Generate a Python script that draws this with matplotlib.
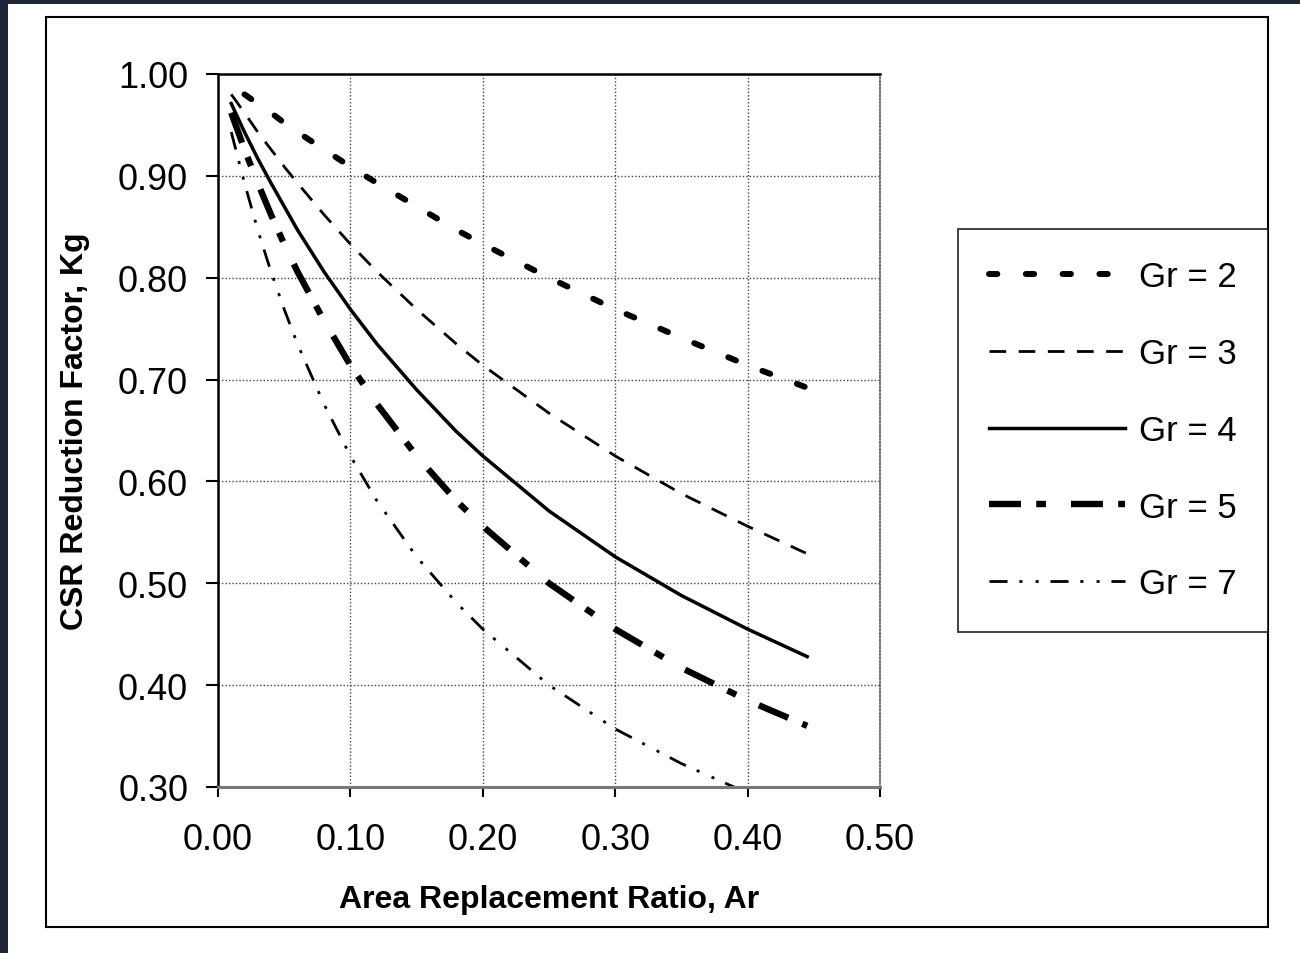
import numpy as np
import matplotlib
matplotlib.use('Agg')
import matplotlib.pyplot as plt
from matplotlib.patches import Rectangle

plt.rcParams['font.family'] = ['Liberation Sans', 'DejaVu Sans']
plt.rcParams['lines.scale_dashes'] = False

# area replacement ratio
ar = [0.01, 0.02, 0.03, 0.04, 0.05, 0.06, 0.08, 0.10, 0.12, 0.15,
      0.18, 0.20, 0.25, 0.30, 0.35, 0.40, 0.445]

kg_gr2 = [0.990, 0.980, 0.971, 0.962, 0.952, 0.943, 0.926, 0.909, 0.893, 0.870,
          0.847, 0.833, 0.800, 0.769, 0.741, 0.714, 0.692]
kg_gr3 = [0.980, 0.962, 0.943, 0.926, 0.909, 0.893, 0.862, 0.833, 0.806, 0.769,
          0.735, 0.714, 0.667, 0.625, 0.588, 0.556, 0.529]
kg_gr4 = [0.971, 0.943, 0.917, 0.893, 0.870, 0.847, 0.806, 0.769, 0.735, 0.690,
          0.649, 0.625, 0.571, 0.526, 0.488, 0.455, 0.428]
kg_gr5 = [0.962, 0.926, 0.893, 0.862, 0.833, 0.806, 0.758, 0.714, 0.676, 0.625,
          0.581, 0.556, 0.500, 0.455, 0.417, 0.385, 0.360]
kg_gr7 = [0.943, 0.893, 0.847, 0.806, 0.769, 0.735, 0.676, 0.625, 0.581, 0.526,
          0.481, 0.455, 0.400, 0.357, 0.323, 0.294]

labels = ['Gr = 2', 'Gr = 3', 'Gr = 4', 'Gr = 5', 'Gr = 7']

xticks = [0.0, 0.1, 0.2, 0.3, 0.4, 0.5]
yticks = [0.3, 0.4, 0.5, 0.6, 0.7, 0.8, 0.9, 1.0]

fig = plt.figure(figsize=(13, 9.54), dpi=100)
fig.patch.set_facecolor('white')

# dark strip on top/left edge of the screenshot
navy = '#1f2436'
fig.patches.append(Rectangle((0, 1 - 5/954.), 1, 5/954., transform=fig.transFigure,
                             facecolor=navy, edgecolor='none', zorder=0))
fig.patches.append(Rectangle((0, 0), 8/1300., 1, transform=fig.transFigure,
                             facecolor=navy, edgecolor='none', zorder=0))
# outer frame of the chart
fig.patches.append(Rectangle((46/1300., 1 - 928/954.), (1268 - 46)/1300., (928 - 18)/954.,
                             transform=fig.transFigure, fill=False,
                             edgecolor='black', linewidth=1.5, zorder=1))

ax = fig.add_axes([218/1300., 1 - 788/954., (880 - 218)/1300., (788 - 75)/954.])

ax.plot(ar[1:], kg_gr2[1:], color='black', lw=4.3, dashes=(6, 20.5), dash_capstyle='round',
        label=labels[0])
ax.plot(ar, kg_gr3, color='black', lw=2.0, dashes=(12, 9), label=labels[1])
ax.plot(ar, kg_gr4, color='black', lw=2.5, label=labels[2])
ax.plot(ar, kg_gr5, color='black', lw=4.6, dashes=(23, 11, 7, 18), label=labels[3])
ax.plot(ar[:len(kg_gr7)], kg_gr7, color='black', lw=2.0,
        dashes=(13, 8.5, 2.2, 9.5, 2.2, 8.5), label=labels[4])

ax.set_xlim(0, 0.5)
ax.set_ylim(0.3, 1.0)
ax.set_xticks(xticks)
ax.set_yticks(yticks)
ax.set_xticklabels(['%.2f' % v for v in xticks])
ax.set_yticklabels(['%.2f' % v for v in yticks])
ax.tick_params(axis='y', direction='out', length=8.5, width=1.5, pad=13, labelsize=26)
ax.tick_params(axis='x', direction='out', length=7, width=1.5, pad=18, labelsize=26)

ax.grid(True, color='#444444', linestyle=(0, (1, 1.5)), linewidth=1.0)
ax.set_axisbelow(True)

for s in ['left', 'top']:
    ax.spines[s].set_linewidth(1.8)
    ax.spines[s].set_color('black')
ax.spines['bottom'].set_linewidth(2.2)
ax.spines['bottom'].set_color('#777777')
ax.spines['right'].set_linestyle((0, (1, 1.5)))
ax.spines['right'].set_linewidth(1.2)
ax.spines['right'].set_color('#555555')

ax.set_xlabel('Area Replacement Ratio, Ar', fontsize=23, fontweight='bold', labelpad=20)
ax.set_ylabel('CSR Reduction Factor, Kg', fontsize=23, fontweight='bold', labelpad=20)

leg = fig.legend(loc='upper left', bbox_to_anchor=(958/1300., 1 - 230/954.),
                 fontsize=25, frameon=True, fancybox=False, shadow=False,
                 handlelength=3.9, handletextpad=0.4, labelspacing=1.26,
                 borderpad=0.9, borderaxespad=0)
leg.get_frame().set_edgecolor('black')
leg.get_frame().set_linewidth(1.3)

plt.savefig('out.png', dpi=100)
